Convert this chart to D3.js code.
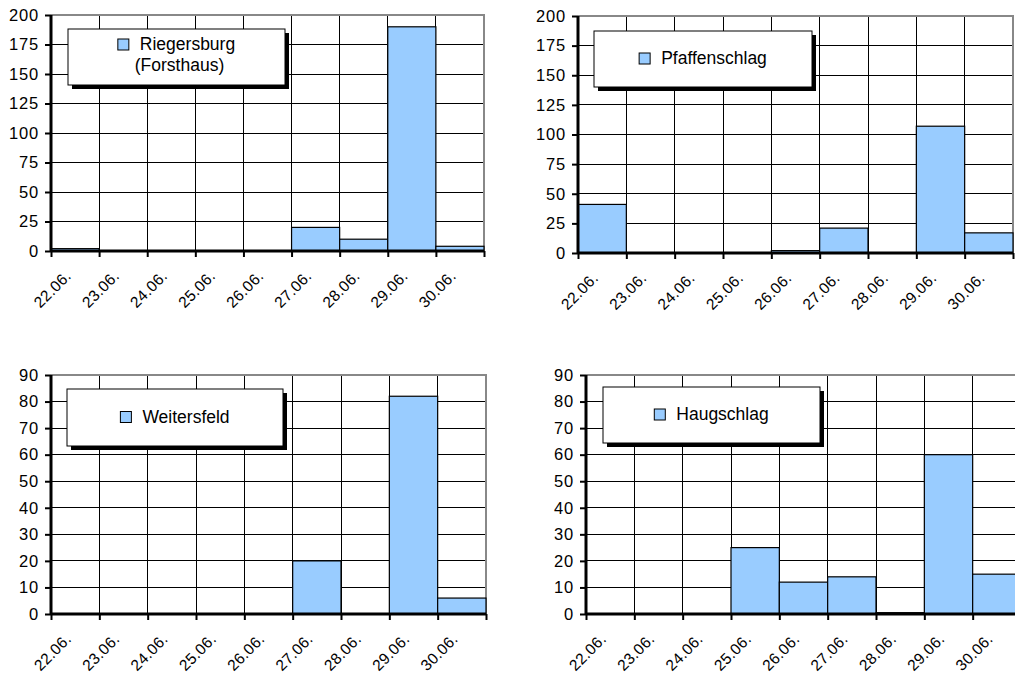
<!DOCTYPE html>
<html>
<head>
<meta charset="utf-8">
<script src="https://cdn.jsdelivr.net/npm/d3@7"></script>
<style>
  html, body { margin: 0; padding: 0; background: #fff; }
  svg { display: block; font-family: "Liberation Sans", Arial, sans-serif; }
</style>
</head>
<body>
<svg id="chart" width="1015" height="684"></svg>
<script>
// ---- data ----
const categories = ["22.06.", "23.06.", "24.06.", "25.06.", "26.06.", "27.06.", "28.06.", "29.06.", "30.06."];
const riegersburg = [2, 0, 0, 0, 0, 20, 10, 190, 4];
const pfaffenschlag = [41, 0, 0, 0, 2, 21, 0, 107, 17];
const weitersfeld = [0, 0, 0, 0, 0, 20, 0, 82, 6];
const haugschlag = [0, 0, 0, 25, 12, 14, 0.5, 60, 15];
const ticksTop = [0, 25, 50, 75, 100, 125, 150, 175, 200];
const ticksBottom = [0, 10, 20, 30, 40, 50, 60, 70, 80, 90];
const legendRiegersburg = ["Riegersburg", "(Forsthaus)"];
const legendPfaffenschlag = ["Pfaffenschlag"];
const legendWeitersfeld = ["Weitersfeld"];
const legendHaugschlag = ["Haugschlag"];

// ---- layout ----
const panels = [
  { values: riegersburg, ticks: ticksTop, legend: legendRiegersburg,
    left: 51, right: 484, top: 15, bottom: 251,
    box: { x: 68, y: 29, w: 217, h: 56 } },
  { values: pfaffenschlag, ticks: ticksTop, legend: legendPfaffenschlag,
    left: 578, right: 1013, top: 16, bottom: 253,
    box: { x: 594, y: 31, w: 218, h: 56 } },
  { values: weitersfeld, ticks: ticksBottom, legend: legendWeitersfeld,
    left: 51, right: 486, top: 375, bottom: 614,
    box: { x: 67, y: 389, w: 216, h: 57 } },
  { values: haugschlag, ticks: ticksBottom, legend: legendHaugschlag,
    left: 586, right: 1021, top: 375, bottom: 614,
    box: { x: 603, y: 387, w: 217, h: 56 } }
];

const svg = d3.select("#chart");
const FILL = "#99CCFF";

panels.forEach(p => {
  const g = svg.append("g");
  const x = d3.scaleBand().domain(categories).range([p.left, p.right]).padding(0);
  const xi = d3.scaleLinear().domain([0, categories.length]).range([p.left, p.right]);
  const maxV = d3.max(p.ticks);
  const y = d3.scaleLinear().domain([0, maxV]).range([p.bottom, p.top]);

  // horizontal gridlines
  g.append("g").selectAll("line").data(p.ticks.filter(t => t > 0 && t < maxV)).join("line")
    .attr("x1", p.left).attr("x2", p.right)
    .attr("y1", d => y(d)).attr("y2", d => y(d))
    .attr("stroke", "#000").attr("stroke-width", 1).attr("shape-rendering", "crispEdges");
  // vertical gridlines
  g.append("g").selectAll("line").data(d3.range(1, categories.length)).join("line")
    .attr("x1", d => xi(d)).attr("x2", d => xi(d))
    .attr("y1", p.top).attr("y2", p.bottom)
    .attr("stroke", "#000").attr("stroke-width", 1).attr("shape-rendering", "crispEdges");
  // plot border (top / right) in grey
  g.append("path")
    .attr("d", `M${p.left},${p.top}H${p.right}V${p.bottom}`)
    .attr("fill", "none").attr("stroke", "#888").attr("stroke-width", 2);

  // bars
  const data = categories.map((c, i) => ({ c, v: p.values[i] })).filter(d => d.v > 0);
  g.append("g").selectAll("rect").data(data).join("rect")
    .attr("x", d => x(d.c)).attr("width", x.bandwidth())
    .attr("y", d => y(d.v)).attr("height", d => y(0) - y(d.v))
    .attr("fill", FILL).attr("stroke", "#000").attr("stroke-width", 1.2);

  // y axis
  const ya = g.append("g").attr("transform", `translate(${p.left},0)`)
    .call(d3.axisLeft(y).tickValues(p.ticks).tickSize(6).tickPadding(6).tickFormat(d3.format("d")));
  ya.select(".domain").attr("stroke", "#000").attr("stroke-width", 3)
    .attr("d", `M0,${p.bottom}V${p.top}`);
  ya.selectAll(".tick line").attr("stroke", "#000").attr("stroke-width", 2);
  ya.selectAll(".tick text").attr("font-size", 16.5).attr("fill", "#000")
    .attr("letter-spacing", "0.8px")
    .attr("font-family", "'Liberation Sans', Arial, sans-serif");

  // x axis (tick marks at category boundaries)
  const xa = g.append("g").attr("transform", `translate(0,${p.bottom})`)
    .call(d3.axisBottom(xi).tickValues(d3.range(0, categories.length + 1)).tickSize(6).tickFormat(""));
  xa.select(".domain").attr("stroke", "#000").attr("stroke-width", 3)
    .attr("d", `M${p.left},0H${p.right}`);
  xa.selectAll(".tick line").attr("stroke", "#000").attr("stroke-width", 2);

  // x labels rotated
  g.append("g").selectAll("text").data(categories).join("text")
    .attr("transform", d => `translate(${x(d) + x.bandwidth() / 2 - 3},${p.bottom + 26}) rotate(-45)`)
    .attr("text-anchor", "end")
    .attr("font-size", 15.5)
    .attr("letter-spacing", "0.3px")
    .attr("fill", "#000")
    .text(d => d);

  // legend
  const b = p.box;
  g.append("rect").attr("x", b.x + 4).attr("y", b.y + 4).attr("width", b.w).attr("height", b.h).attr("fill", "#000");
  g.append("rect").attr("x", b.x).attr("y", b.y).attr("width", b.w).attr("height", b.h)
    .attr("fill", "#fff").attr("stroke", "#000").attr("stroke-width", 1);
  const cx = b.x + b.w / 2;
  const lines = p.legend;
  const lineH = 21;
  const firstBase = lines.length === 1 ? b.y + b.h / 2 + 5 : b.y + 21;
  const fs = 17.5;
  const t0 = g.append("text").attr("font-size", fs).attr("fill", "#000").text(lines[0]);
  const w0 = t0.node().getComputedTextLength();
  const sw = 11, gap = 11;
  const startX = cx - (sw + gap + w0) / 2;
  t0.attr("x", startX + sw + gap).attr("y", firstBase);
  g.append("rect").attr("x", startX).attr("y", firstBase - 11).attr("width", sw).attr("height", sw)
    .attr("fill", FILL).attr("stroke", "#000").attr("stroke-width", 1);
  lines.slice(1).forEach((ln, i) => {
    g.append("text").attr("x", cx + 3).attr("y", firstBase + lineH * (i + 1))
      .attr("text-anchor", "middle").attr("font-size", fs).attr("fill", "#000").text(ln);
  });
});
</script>
</body>
</html>
